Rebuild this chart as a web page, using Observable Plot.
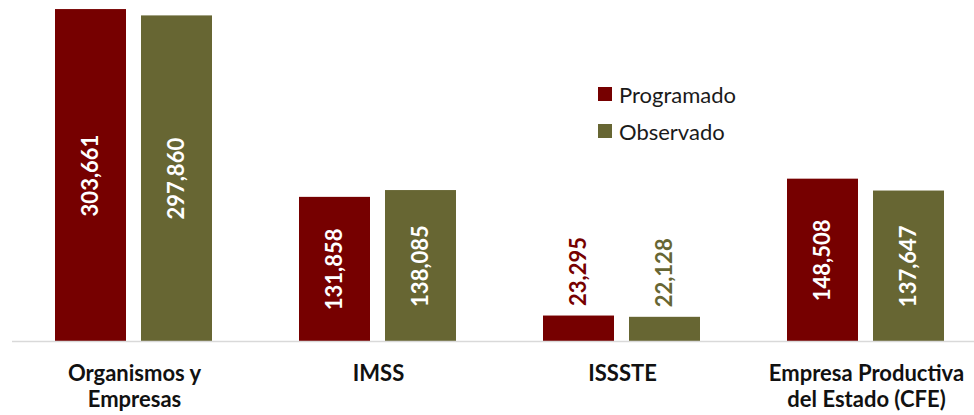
<!DOCTYPE html>
<html>
<head>
<meta charset="utf-8">
<script src="https://cdn.jsdelivr.net/npm/d3@7"></script>
<script src="https://cdn.jsdelivr.net/npm/@observablehq/plot@0.6"></script>
<style>
  html, body { margin: 0; padding: 0; background: #fff; }
  #wrap { position: relative; width: 974px; height: 415px; overflow: hidden; font-family: Lato, "Open Sans", sans-serif; }
  #legend { position: absolute; left: 598px; top: 81px; font-family: Lato, sans-serif; font-size: 22px; color: #1a1a1a; }
  #legend .row { display: flex; align-items: center; height: 26px; margin-bottom: 11px; }
  #legend .sw { width: 14px; height: 14px; margin-right: 7px; }
</style>
</head>
<body>
<div id="wrap"><div id="legend"></div></div>
<script>
const categories = ["Organismos y Empresas", "IMSS", "ISSSTE", "Empresa Productiva del Estado (CFE)"];
const tickLabels = ["Organismos y\nEmpresas", "IMSS", "ISSSTE", "Empresa Productiva\ndel Estado (CFE)"];
const seriesNames = ["Programado", "Observado"];
const seriesColors = ["#760000", "#676633"];
const programado = [303661, 131858, 23295, 148508];
const observado = [297860, 138085, 22128, 137647];
const outsideLabelCategories = ["ISSSTE"];

const data = [];
categories.forEach((c, i) => {
  data.push({category: c, series: seriesNames[0], value: programado[i]});
  data.push({category: c, series: seriesNames[1], value: observado[i]});
});
const inside = data.filter(d => !outsideLabelCategories.includes(d.category));
const outside = data.filter(d => outsideLabelCategories.includes(d.category));
const fmt = d3.format(",");

const chart = Plot.plot({
  width: 974,
  height: 415,
  marginTop: 0,
  marginBottom: 74,
  marginLeft: 11,
  marginRight: -15,
  style: {fontFamily: "Lato, sans-serif", background: "transparent", overflow: "visible"},
  fx: {domain: categories, padding: 0, label: null},
  x: {domain: seriesNames, paddingInner: 0.173, paddingOuter: 0.5, axis: null},
  y: {domain: [0, 311950], axis: null},
  color: {domain: seriesNames, range: seriesColors},
  marks: [
    Plot.barY(data, {fx: "category", x: "series", y: "value", fill: "series"}),
    Plot.ruleY([0], {stroke: "#d9d9d9", strokeWidth: 1.5}),
    Plot.text(inside, {fx: "category", x: "series", y: d => d.value / 2, text: d => fmt(d.value),
      rotate: -90, fill: "white", fontSize: 22, fontWeight: "bold"}),
    Plot.text(outside, {fx: "category", x: "series", y: "value", text: d => fmt(d.value),
      rotate: -90, textAnchor: "start", dy: -10, fill: "series", fontSize: 22, fontWeight: "bold"}),
    Plot.axisFx({anchor: "bottom", tickSize: 0, tickPadding: 21, label: null,
      tickFormat: d => tickLabels[categories.indexOf(d)],
      fontSize: 22, fontWeight: "bold", lineHeight: 1.18, fill: "#111"})
  ]
});
document.getElementById("wrap").prepend(chart);

const legend = document.getElementById("legend");
seriesNames.forEach((s, i) => {
  const row = document.createElement("div");
  row.className = "row";
  const sw = document.createElement("div");
  sw.className = "sw";
  sw.style.background = seriesColors[i];
  const t = document.createElement("span");
  t.textContent = s;
  row.appendChild(sw);
  row.appendChild(t);
  legend.appendChild(row);
});
</script>
</body>
</html>
